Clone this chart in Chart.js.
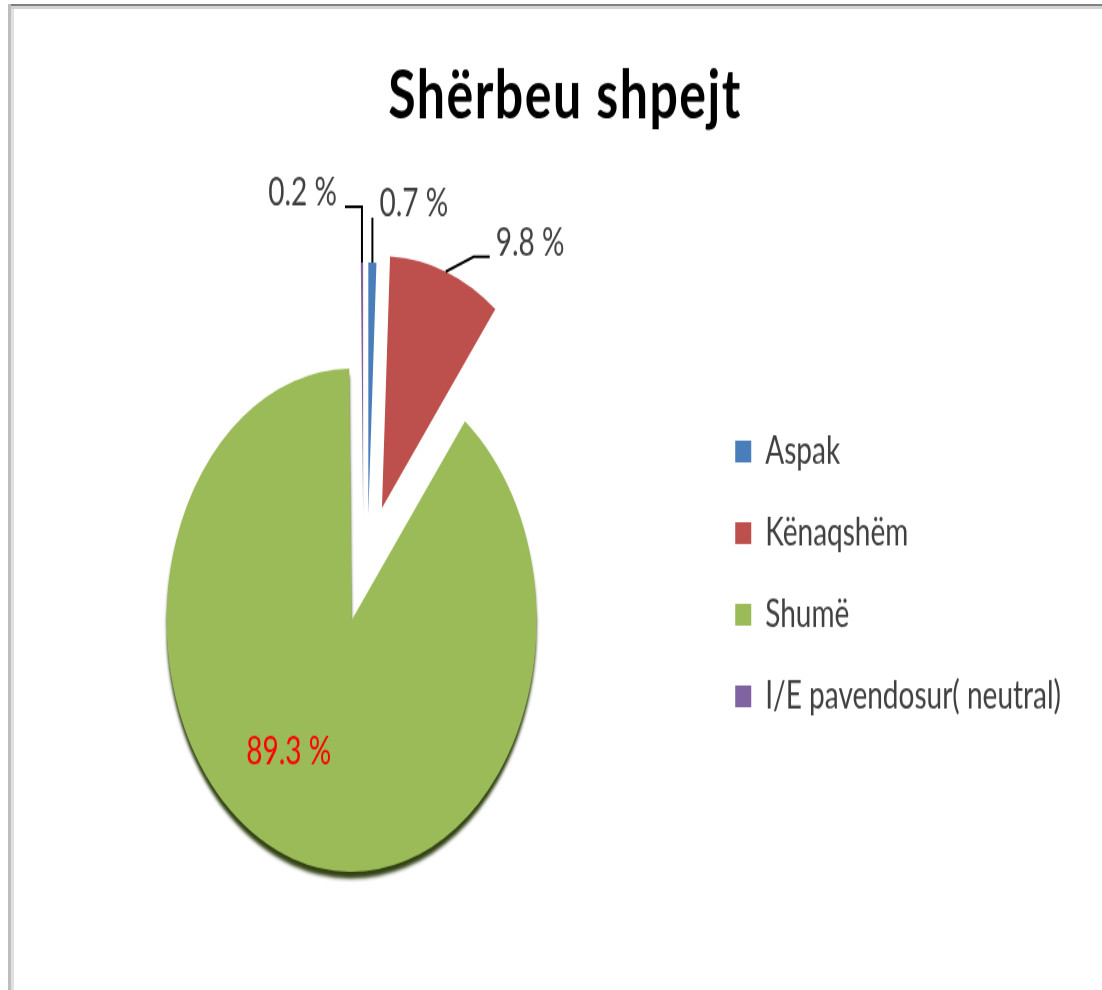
<!DOCTYPE html>
<html>
<head>
<meta charset="utf-8">
<script src="https://cdn.jsdelivr.net/npm/chart.js@4.4.1/dist/chart.umd.min.js"></script>
<style>
  html, body { margin: 0; padding: 0; background: #fff; overflow: hidden; }
  #page { position: relative; width: 1102px; height: 990px; overflow: hidden; }
  /* the original picture is stretched vertically, so the chart is drawn flat and scaled */
  #stretch { position: absolute; left: 0; top: 0; width: 1102px; height: 728px; transform: scaleY(1.36); transform-origin: 0 0; }
  .rule { position: absolute; }
</style>
</head>
<body>
<div id="page">
  <div id="stretch"><canvas id="chart"></canvas></div>
  <div class="rule" style="left:8px;top:4px;width:1094px;height:2px;background:#808080"></div>
  <div class="rule" style="left:11px;top:6px;width:1091px;height:3px;background:#d2d2d2"></div>
  <div class="rule" style="left:8px;top:4px;width:3px;height:986px;background:#bdbdbd"></div>
  <div class="rule" style="left:11px;top:9px;width:3px;height:981px;background:#e0e0e0"></div>
</div>
<script>
const chartTitle = 'Shërbeu shpejt';
const categories = ['Aspak', 'Kënaqshëm', 'Shumë', 'I/E pavendosur( neutral)'];
const percents = [0.7, 9.8, 89.3, 0.2];
const sliceColors = ['#4a7ebb', '#bd4f4c', '#9bbb59', '#8064a2'];

// how far each slice is pulled out of the pie (px), plus a small sideways nudge
const explode = [78, 88, 0, 78];
const nudgeX = [15, 0, 0, 12];

function sliceShift(arc, i) {
  const a = (arc.startAngle + arc.endAngle) / 2;
  return [Math.cos(a) * explode[i] + nudgeX[i], Math.sin(a) * explode[i]];
}

const explodePlugin = {
  id: 'explode',
  beforeDatasetDraw(chart, args) {
    const ctx = chart.ctx;
    args.meta.data.forEach((arc, i) => {
      const [dx, dy] = sliceShift(arc, i);
      ctx.save();
      if (explode[i] === 0) {
        ctx.shadowColor = 'rgba(50, 66, 20, 1)';
        ctx.shadowOffsetY = 5;
        ctx.shadowBlur = 3;
      }
      ctx.translate(dx, dy);
      arc.draw(ctx);
      ctx.restore();
    });
    return false;
  }
};

const labelPlugin = {
  id: 'sliceLabels',
  afterDatasetsDraw(chart) {
    const ctx = chart.ctx;
    const meta = chart.getDatasetMeta(0);
    ctx.save();
    ctx.font = '28px Lato';
    ctx.textBaseline = 'middle';
    ctx.lineWidth = 2;
    ctx.strokeStyle = '#000';
    meta.data.forEach((arc, i) => {
      const a = (arc.startAngle + arc.endAngle) / 2;
      const [dx, dy] = sliceShift(arc, i);
      const cx = arc.x + dx;
      const cy = arc.y + dy;
      const sx = cx + Math.cos(a) * arc.outerRadius;
      const sy = cy + Math.sin(a) * arc.outerRadius;
      const text = percents[i].toFixed(1) + ' %';
      ctx.beginPath();
      if (i === 0) {
        ctx.moveTo(sx, sy); ctx.lineTo(sx, sy - 33); ctx.stroke();
        ctx.fillStyle = '#404040'; ctx.textAlign = 'left';
        ctx.fillText(text, sx + 7, sy - 43);
      } else if (i === 1) {
        ctx.moveTo(sx, sy); ctx.lineTo(sx + 28, sy - 11); ctx.lineTo(sx + 44, sy - 11); ctx.stroke();
        ctx.fillStyle = '#404040'; ctx.textAlign = 'left';
        ctx.fillText(text, sx + 50, sy - 21);
      } else if (i === 3) {
        ctx.moveTo(sx, sy); ctx.lineTo(sx, sy - 41); ctx.lineTo(sx - 17, sy - 41); ctx.stroke();
        ctx.fillStyle = '#404040'; ctx.textAlign = 'right';
        ctx.fillText(text, sx - 25, sy - 51);
      } else {
        ctx.fillStyle = '#ff0000'; ctx.textAlign = 'center';
        ctx.fillText(text, cx - 0.34 * arc.outerRadius, cy + 0.525 * arc.outerRadius);
      }
    });
    ctx.restore();
  }
};

const titlePlugin = {
  id: 'bigTitle',
  afterDraw(chart) {
    const ctx = chart.ctx;
    ctx.save();
    ctx.font = 'bold 50px Lato';
    ctx.letterSpacing = '1.5px';
    ctx.fillStyle = '#000';
    ctx.textAlign = 'center';
    ctx.textBaseline = 'alphabetic';
    ctx.fillText(chartTitle, 565, 87);
    ctx.restore();
  }
};

new Chart(document.getElementById('chart'), {
  type: 'pie',
  data: {
    labels: categories,
    datasets: [{
      data: percents,
      backgroundColor: sliceColors,
      borderWidth: 0,
      radius: 185,
      clip: false
    }]
  },
  options: {
    responsive: true,
    maintainAspectRatio: false,
    animation: false,
    rotation: 0,
    layout: { padding: { left: -3, right: 31, top: 286, bottom: 102 } },
    plugins: {
      tooltip: { enabled: false },
      title: { display: false },
      legend: {
        position: 'right',
        align: 'start',
        fullSize: false,
        labels: {
          boxWidth: 16,
          boxHeight: 16,
          padding: 32,
          color: '#404040',
          font: { family: 'Lato', size: 28 }
        }
      }
    }
  },
  plugins: [explodePlugin, labelPlugin, titlePlugin]
});
</script>
</body>
</html>
